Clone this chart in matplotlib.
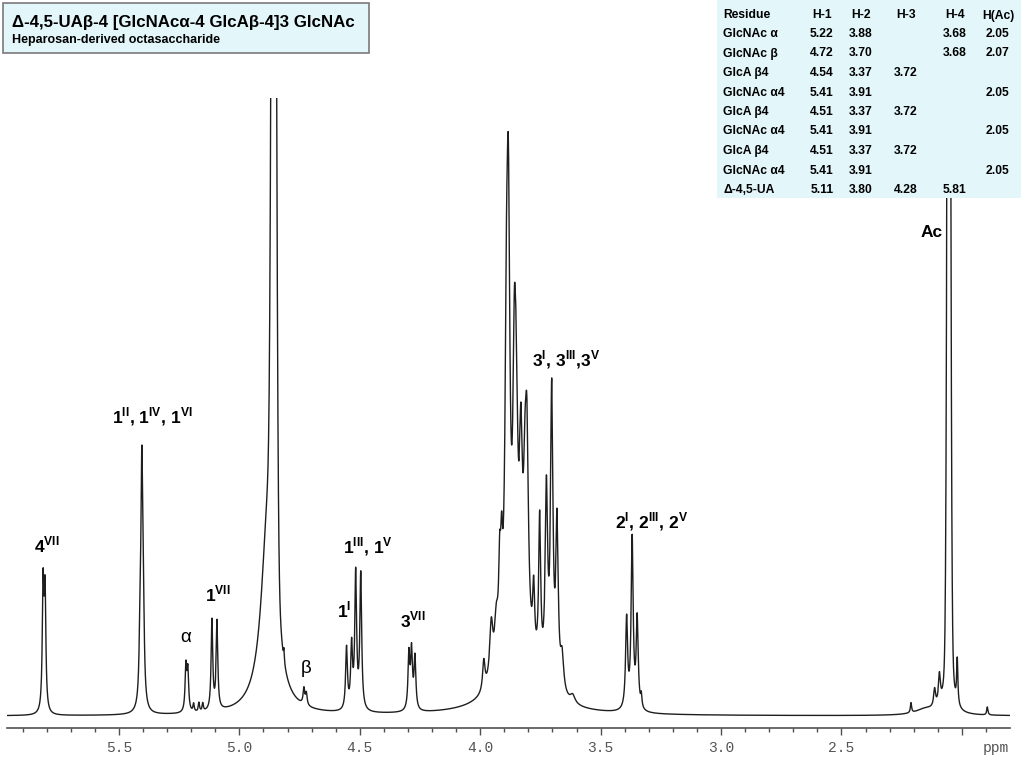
import numpy as np
import matplotlib.pyplot as plt
from matplotlib.patches import Rectangle

plt.rcParams['font.family'] = ['Liberation Sans', 'DejaVu Sans']
plt.rcParams['mathtext.fontset'] = 'custom'
plt.rcParams['mathtext.rm'] = 'Liberation Sans'
plt.rcParams['mathtext.bf'] = 'Liberation Sans:bold'

# peak list (ppm, height in px above baseline, half width in ppm, shape)
peak_ppm = [5.815, 5.807,
            5.412, 5.405, 5.399,
            5.222, 5.214, 5.190, 5.168, 5.152,
            5.114, 5.093,
            4.882, 4.857, 4.857, 4.815,
            4.732, 4.722,
            4.555, 4.534, 4.517, 4.496,
            4.296, 4.285, 4.271,
            3.985, 3.954, 3.933, 3.919, 3.911, 3.891, 3.883, 3.858, 3.850,
            3.831, 3.814, 3.806, 3.778, 3.753, 3.725, 3.703, 3.681,
            3.660, 3.616, 3.840,
            3.392, 3.369, 3.348, 3.331,
            2.211, 2.150, 2.113, 2.093, 2.054, 2.054, 2.019, 1.894]
peak_height = [124, 115,
               65, 222, 80,
               45, 40, 8, 9, 8,
               90, 88,
               178, 350, 1100, 12,
               16, 12,
               62, 62, 135, 135,
               55, 57, 52,
               30, 55, 45, 75, 75, 245, 376, 234, 160,
               172, 115, 180, 65, 150, 185, 290, 162,
               35, 8, 55,
               90, 170, 90, 12,
               10, 6, 18, 30, 1000, 1000, 45, 8]
peak_width = [0.004, 0.004,
              0.0045, 0.0045, 0.0045,
              0.004, 0.004, 0.003, 0.003, 0.003,
              0.004, 0.004,
              0.0332, 0.0104, 0.0098, 0.002,
              0.004, 0.004,
              0.0045, 0.0045, 0.0045, 0.0045,
              0.0045, 0.0045, 0.0045,
              0.006, 0.008, 0.009, 0.005, 0.005, 0.0075, 0.0075, 0.0075, 0.0075,
              0.0075, 0.0075, 0.0075, 0.005, 0.005, 0.006, 0.006, 0.006,
              0.008, 0.012, 0.09,
              0.005, 0.005, 0.005, 0.003,
              0.003, 0.05, 0.005, 0.005, 0.007, 0.004, 0.003, 0.003]
peak_shape = ['L'] * len(peak_ppm)
peak_shape[14] = 'G'
peak_shape[53] = 'G'

# assignments: text, ppm, baseline height
label_text = ['4$^{\\mathbf{VII}}$',
              '1$^{\\mathbf{II}}$, 1$^{\\mathbf{IV}}$, 1$^{\\mathbf{VI}}$',
              '1$^{\\mathbf{VII}}$',
              '1$^{\\mathbf{I}}$',
              '1$^{\\mathbf{III}}$, 1$^{\\mathbf{V}}$',
              '3$^{\\mathbf{VII}}$',
              '3$^{\\mathbf{I}}$, 3$^{\\mathbf{III}}$,3$^{\\mathbf{V}}$',
              '2$^{\\mathbf{I}}$, 2$^{\\mathbf{III}}$, 2$^{\\mathbf{V}}$',
              'Ac']
label_ppm = [5.799, 5.363, 5.089, 4.566, 4.467, 4.280, 3.641, 3.288, 2.127]
label_y = [164, 293, 115, 99, 163, 89, 350, 188, 479]
greek_text = ['α', 'β']
greek_ppm = [5.222, 4.724]
greek_y = [74, 43]

tick_vals = [5.5, 5.0, 4.5, 4.0, 3.5, 3.0, 2.5, 2.0]
tick_labels = ['5.5', '5.0', '4.5', '4.0', '3.5', '3.0', '2.5', '']

# table of shifts
tbl_header = ['Residue', 'H-1', 'H-2', 'H-3', 'H-4', 'H(Ac)']
residues = ['GlcNAc α', 'GlcNAc β', 'GlcA β4', 'GlcNAc α4', 'GlcA β4',
            'GlcNAc α4', 'GlcA β4', 'GlcNAc α4', 'Δ-4,5-UA']
h1 = ['5.22', '4.72', '4.54', '5.41', '4.51', '5.41', '4.51', '5.41', '5.11']
h2 = ['3.88', '3.70', '3.37', '3.91', '3.37', '3.91', '3.37', '3.91', '3.80']
h3 = ['', '', '3.72', '', '3.72', '', '3.72', '', '4.28']
h4 = ['3.68', '3.68', '', '', '', '', '', '', '5.81']
hac = ['2.05', '2.07', '', '2.05', '', '2.05', '', '2.05', '']

ppm = np.linspace(1.80, 5.965, 12000)
spec = np.zeros_like(ppm)
for p, h, w, s in zip(peak_ppm, peak_height, peak_width, peak_shape):
    if s == 'L':
        spec += h / (1 + ((ppm - p) / w) ** 2)
    else:
        spec += h * np.exp(-np.log(2) * ((ppm - p) / w) ** 2)

W, H = 1024, 768
fig = plt.figure(figsize=(W / 100, H / 100), dpi=100)
ax = fig.add_axes([7 / W, 40 / H, 1003 / W, 630 / H])
ax.plot(ppm, spec, color='#1e1e1e', lw=1.0)
ax.set_xlim(5.965, 1.80)
ax.set_ylim(-12, 618)
for side in ['left', 'right', 'top']:
    ax.spines[side].set_visible(False)
ax.spines['bottom'].set_color('#505050')
ax.spines['bottom'].set_linewidth(1.2)
ax.set_yticks([])
ax.set_xticks(tick_vals)
ax.set_xticklabels(tick_labels)
ax.set_xticks(np.arange(1.9, 5.95, 0.1), minor=True)
ax.tick_params(axis='x', which='major', length=5, width=1, color='#505050',
               labelsize=10.5, labelcolor='#555555', pad=4)
ax.tick_params(axis='x', which='minor', length=3, width=1, color='#505050')
for lab in ax.get_xticklabels():
    lab.set_family('Liberation Mono')
ax.text(996 / W, 1 - 748 / H, 'ppm', transform=fig.transFigure, ha='center',
        va='center', family='Liberation Mono', fontsize=10.5, color='#555555')

for t, x, y in zip(label_text, label_ppm, label_y):
    ax.text(x, y, t, ha='center', va='baseline', fontsize=12.5, fontweight='bold')
for t, x, y in zip(greek_text, greek_ppm, greek_y):
    ax.text(x, y, t, ha='center', va='baseline', fontsize=13.5)

# title box
fig.add_artist(Rectangle((3 / W, 1 - 53 / H), 366 / W, 50 / H, transform=fig.transFigure,
                         facecolor='#E3F6FA', edgecolor='#7a7a7a', lw=1.2, zorder=5))
fig.text(12 / W, 1 - 27 / H, 'Δ-4,5-UAβ-4 [GlcNAcα-4 GlcAβ-4]3 GlcNAc', fontsize=12.2,
         fontweight='bold', va='baseline', zorder=6)
fig.text(12 / W, 1 - 43 / H, 'Heparosan-derived octasaccharide', fontsize=9,
         fontweight='bold', va='baseline', zorder=6)

# shift table
fig.add_artist(Rectangle((717 / W, 1 - 198 / H), 304 / W, 198 / H, transform=fig.transFigure,
                         facecolor='#E3F6FA', edgecolor='none', zorder=5))
row_y = [15.5, 34, 53.5, 73, 92.5, 112, 131.5, 151, 170.5, 190]
col_x = [822, 861, 906, 955, 998]
fig.text(723 / W, 1 - row_y[0] / H, tbl_header[0], fontsize=8.7, fontweight='bold',
         va='center', zorder=6)
for cx, t in zip(col_x, tbl_header[1:]):
    fig.text(cx / W, 1 - row_y[0] / H, t, fontsize=8.7, fontweight='bold',
             ha='center', va='center', zorder=6)
for i, name in enumerate(residues):
    yy = 1 - row_y[i + 1] / H
    fig.text(723 / W, yy, name, fontsize=8.7, fontweight='bold', va='center', zorder=6)
    for cx, col in zip(col_x, [h1, h2, h3, h4, hac]):
        if col[i]:
            fig.text(cx / W, yy, col[i], fontsize=8.7, fontweight='bold',
                     ha='center', va='center', zorder=6)

fig.savefig('out.png', dpi=100)
